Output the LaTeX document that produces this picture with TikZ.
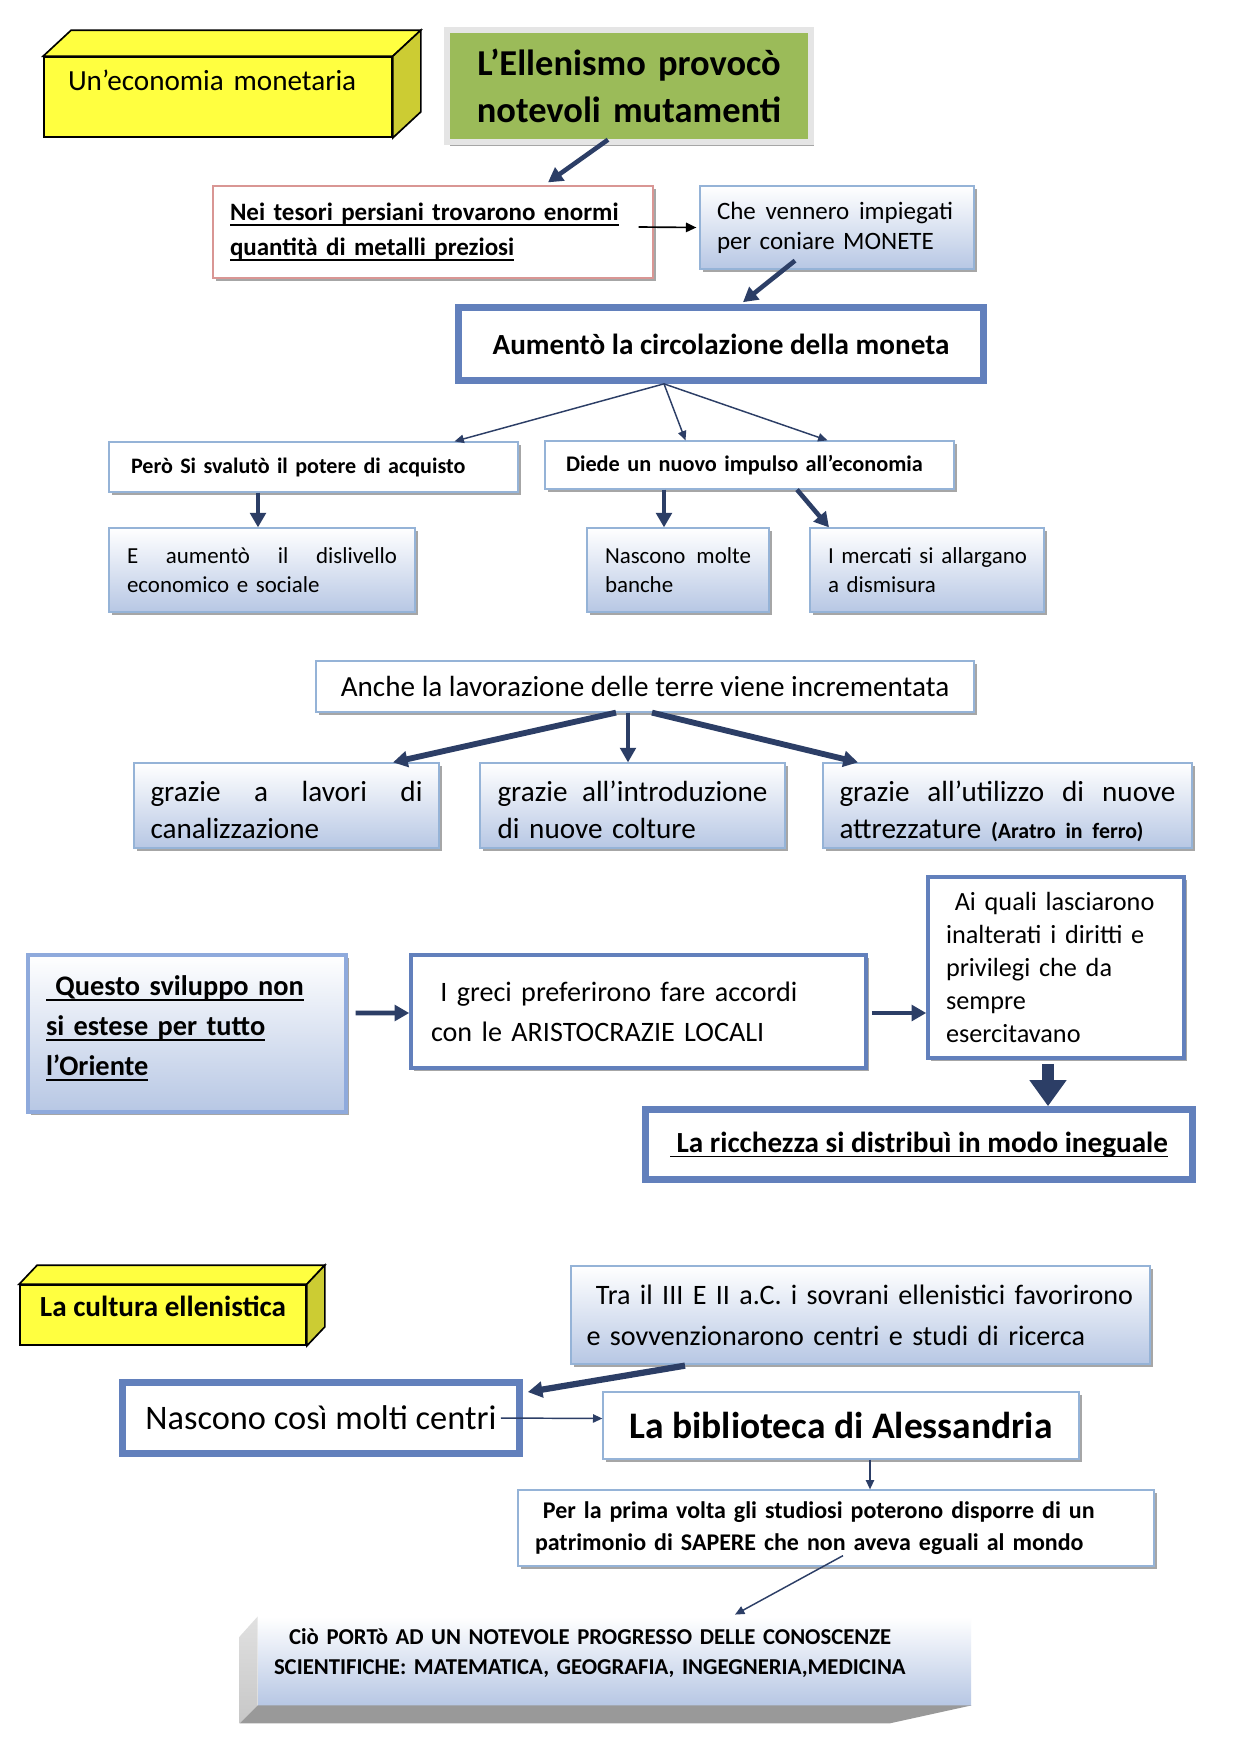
\documentclass[tikz,border=0pt]{standalone}
\usepackage{fontspec}
\setmainfont{Carlito}
\usepackage{xcolor}
\usetikzlibrary{arrows.meta,shadows}
\definecolor{navy}{RGB}{44,62,102}
\definecolor{boxblue}{RGB}{149,179,215}
\definecolor{gradblue}{RGB}{183,199,228}
\definecolor{frameblue}{RGB}{98,128,188}
\definecolor{softblue}{RGB}{143,170,220}
\definecolor{olive}{RGB}{155,187,89}
\definecolor{yell}{RGB}{255,255,64}
\definecolor{yellside}{RGB}{204,204,51}
\definecolor{pinkline}{RGB}{217,150,148}
\newlength{\px}\setlength{\px}{0.48pt}
\hyphenpenalty=10000 \exhyphenpenalty=10000
\newcommand{\fsz}[2]{\fontsize{#1pt}{#2pt}\selectfont}
\newcommand{\jline}[2]{\makebox[#1\px][s]{#2}}
\newsavebox{\ulbox}
\newcommand{\uln}[1]{\leavevmode\sbox{\ulbox}{#1}\rlap{\rule[-2.4pt]{\wd\ulbox}{0.8pt}}\usebox{\ulbox}}
\tikzset{
  wbox/.style={draw=boxblue, line width=0.6pt, fill=white, inner sep=0pt,
    drop shadow={shadow xshift=1.6pt, shadow yshift=-1.6pt, fill=black!35, opacity=1}},
  gbox/.style={wbox, top color=white, bottom color=gradblue},
  dbox/.style={draw=frameblue, line width=3.2pt, fill=white, inner sep=0pt},
  ybox/.style={draw=black, line width=0.8pt, fill=yell, inner sep=0pt},
  sz/.style 2 args={minimum width=#1\px, minimum height=#2\px},
  thk/.style={navy, line width=2.2pt, -{Triangle[length=7pt,width=7.5pt]}},
  thn/.style={navy, line width=0.7pt, -{Triangle[length=4.5pt,width=4pt]}},
  bigarrow/.style={navy, line width=6pt, -{Triangle[length=12.5pt,width=17pt]}}
}
\begin{document}
\begin{tikzpicture}[x=0.48pt, y=-0.48pt]
\path[use as bounding box, fill=white] (0,0) rectangle (1240,1754);

% economia monetaria
\node[ybox, sz={348}{80}, text width=300\px, align=left, text depth=16.5pt, font=\fsz{14}{17}] (econ) at (218,97) {Un’economia monetaria};
\node[fill=olive, draw=black!10, line width=2.6pt, inner sep=0pt, sz={364}{112},
  drop shadow={shadow xshift=1.5pt, shadow yshift=-2pt, fill=black!35, opacity=1},
  text width=340\px, align=center, font=\bfseries\fsz{17.5}{22.3}] (ellen) at (629,86) {L’Ellenismo provocò\\notevoli mutamenti};
\node[wbox, draw=pinkline, sz={440}{92}, text width=406\px, align=left, font=\bfseries\fsz{12}{16.8}] (tesori) at (433,232)
  {\uln{Nei tesori persiani trovarono enormi}\\\uln{quantità di metalli preziosi}};
\node[gbox, sz={274}{83}, text width=240\px, align=left, font=\fsz{12}{14.4}] (vennero) at (837,227.5)
  {\jline{236}{Che\hfill vennero\hfill impiegati}\\per coniare MONETE};
\node[dbox, sz={525}{73}, font=\bfseries\fsz{14}{17}] (moneta) at (721,344) {Aumentò la circolazione della moneta};
\node[wbox, sz={409}{50}, text width=365\px, align=left, font=\bfseries\fsz{10.6}{13}] (perd) at (313.5,467) {Però Si svalutò il potere di acquisto};
\node[wbox, sz={409}{48}, text width=367\px, align=left, font=\bfseries\fsz{10.7}{13}] (impulso) at (749.5,465) {Diede un nuovo impulso all’economia};
\node[gbox, sz={306}{84}, text width=270\px, align=left, font=\fsz{11}{14}] (dislivello) at (262,570)
  {\jline{270}{E\hfill aumentò\hfill il\hfill dislivello}\\economico e sociale};
\node[gbox, sz={182}{84}, text width=146\px, align=left, font=\fsz{11}{14}] (banche) at (678,570)
  {\jline{146}{Nascono\hfill molte}\\banche};
\node[gbox, sz={234}{84}, text width=198\px, align=left, font=\fsz{11}{14}] (mercati) at (927,570)
  {\jline{196}{I mercati si allargano}\\a dismisura};

% terre
\node[wbox, sz={658}{51}, font=\fsz{14}{17}] (terre) at (645,686.5) {Anche la lavorazione delle terre viene incrementata};
\node[gbox, sz={305}{85}, text width=272\px, align=left, text depth=13.5pt, font=\fsz{14}{17.8}] (canal) at (286.5,805.5)
  {\jline{272}{grazie\hfill a\hfill lavori\hfill di}\\canalizzazione};
\node[gbox, sz={305}{85}, text width=270\px, align=left, text depth=13.5pt, font=\fsz{14}{17.8}] (colture) at (632.5,805.5)
  {\jline{270}{grazie\hfill all’introduzione}\\di nuove colture};
\node[gbox, sz={369}{85}, text width=336\px, align=left, text depth=13.5pt, font=\fsz{14}{17.8}] (attrezzi) at (1007.5,805.5)
  {\jline{336}{grazie\hfill all’utilizzo\hfill di\hfill nuove}\\attrezzature {\bfseries\fsz{10.5}{17.8}(Aratro in ferro)}};

% oriente
\node[gbox, draw=softblue, line width=1.5pt, sz={318}{157}, text width=282\px, align=left, text depth=46pt, font=\bfseries\fsz{13.6}{19.2}] (oriente) at (187,1033.5)
  {\uln{\ Questo sviluppo non}\\\uln{si estese per tutto}\\\uln{l’Oriente}};
\node[wbox, draw=frameblue, line width=1.7pt, sz={455}{113}, text width=415\px, align=left, font=\fsz{13.5}{19.2}] (greci) at (638.5,1011.5)
  {\ I greci preferirono fare accordi\\con le ARISTOCRAZIE LOCALI};
\node[wbox, draw=frameblue, line width=1.7pt, sz={256}{181}, text width=220\px, align=left, font=\fsz{12.6}{15.8}] (quali) at (1056,967.5)
  {\ Ai quali lasciarono\\inalterati i diritti e\\privilegi che da\\sempre\\esercitavano};
\node[dbox, sz={547}{70}, font=\bfseries\fsz{14}{17}] (ricchezza) at (919,1144.5) {\uln{\ La ricchezza si distribuì in modo ineguale}};

% cultura
\node[ybox, sz={286}{60}, text depth=8pt, font=\bfseries\fsz{14}{17}] (cultura) at (163,1315) {La cultura ellenistica};
\node[gbox, sz={579}{98}, text width=548\px, align=left, font=\fsz{13.5}{19.7}] (ricerca) at (860.5,1315)
  {\mbox{\ Tra il III E II a.C. i sovrani ellenistici favorirono}\\\mbox{e sovvenzionarono centri e studi di ricerca}};
\node[dbox, sz={397}{71}, font=\fsz{16.5}{20}] (centri) at (321,1418) {Nascono così molti centri};
\node[wbox, sz={476}{67}, font=\bfseries\fsz{18}{22}] (biblio) at (841,1425.5) {La biblioteca di Alessandria};
\node[wbox, sz={636}{76}, text width=602\px, align=left, font=\bfseries\fsz{11.5}{15.4}] (prima) at (836,1528)
  {\mbox{\ Per la prima volta gli studiosi poterono disporre di un}\\\mbox{patrimonio di SAPERE che non aveva eguali al mondo}};
\node[top color=white, bottom color=gradblue, inner sep=0pt, sz={713}{88}, text width=681\px, align=left, text depth=23.8pt,
  font=\bfseries\fsz{10.9}{14.4}] (progresso) at (614.5,1661)
  {\mbox{\ \ Ciò PORTò AD UN NOTEVOLE PROGRESSO DELLE CONOSCENZE}\\\mbox{SCIENTIFICHE: MATEMATICA, GEOGRAFIA, INGEGNERIA,MEDICINA}};

% facce dei solidi
\foreach \n/\d/\e in {econ/28/26, cultura/18/19} {
  \filldraw[fill=yell, draw=black, line width=0.8pt] (\n.north west) -- ++(\d,-\e) -- ([shift={(\d,-\e)}]\n.north east) -- (\n.north east) -- cycle;
  \filldraw[fill=yellside, draw=black, line width=0.8pt] (\n.north east) -- ++(\d,-\e) -- ([shift={(\d,-\e)}]\n.south east) -- (\n.south east) -- cycle;
}
\shade[top color=black!12, bottom color=black!22] (progresso.north west) -- (progresso.south west) -- ++(-18,18) -- ([shift={(-18,20)}]progresso.north west) -- cycle;
\fill[black!40] (progresso.south west) -- (progresso.south east) -- ++(-82,18) -- ([shift={(-18,18)}]progresso.south west) -- cycle;
\foreach \n in {moneta, ricchezza, centri}
  \draw[frameblue, line width=0.6pt] ([shift={(6,6)}]\n.north west) rectangle ([shift={(-6,-6)}]\n.south east);

% frecce
\draw[thk] ([shift={(-21,-5)}]ellen.south) -- ([shift={(115,-3)}]tesori.north);
\draw[black, line width=0.8pt, -{Triangle[length=5pt,width=4.5pt]}] ([shift={(-15,-5)}]tesori.east) -- ([shift={(-3,0)}]vennero.west);
\draw[thk] ([shift={(-42,-9)}]vennero.south) -- ([shift={(22,-2)}]moneta.north);
\foreach \t/\dx in {perd/141, impulso/-64, impulso/78}
  \draw[thn] ([shift={(-57,0)}]moneta.south) -- ([shift={(\dx,0)}]\t.north);
\draw[thk] ([shift={(-55.5,0)}]perd.south) -- ([shift={(-4,0)}]dislivello.north);
\draw[thk] ([shift={(-85.5,0)}]impulso.south) -- ([shift={(-14,0)}]banche.north);
\draw[thk] ([shift={(47.5,0)}]impulso.south) -- ([shift={(-98,0)}]mercati.north);
\draw[thk, line width=2.8pt] ([shift={(-29,0)}]terre.south) -- ([shift={(106.5,0)}]canal.north);
\draw[thk, line width=1.6pt] ([shift={(-17,0)}]terre.south) -- ([shift={(-4.5,0)}]colture.north);
\draw[thk, line width=2.8pt] ([shift={(7,0)}]terre.south) -- ([shift={(-149.5,0)}]attrezzi.north);
\draw[thk] ([shift={(8,-20.5)}]oriente.east) -- ([shift={(0,1.5)}]greci.west);
\draw[thk] ([shift={(4,1.5)}]greci.east) -- ([shift={(0,45.5)}]quali.west);
\draw[bigarrow] ([shift={(-8,4)}]quali.south) -- ([shift={(129,0)}]ricchezza.north);
\draw[thk, line width=3pt] ([shift={(-175.5,1)}]ricerca.south) -- ([shift={(5,-26)}]centri.east);
\draw[thn] ([shift={(-22,0)}]centri.east) -- ([shift={(0,-7)}]biblio.west);
\draw[thn] ([shift={(29,0)}]biblio.south) -- ([shift={(34,0)}]prima.north);
\draw[thn] ([shift={(7,-11)}]prima.south) -- ([shift={(120.5,-2)}]progresso.north);
\end{tikzpicture}
\end{document}
